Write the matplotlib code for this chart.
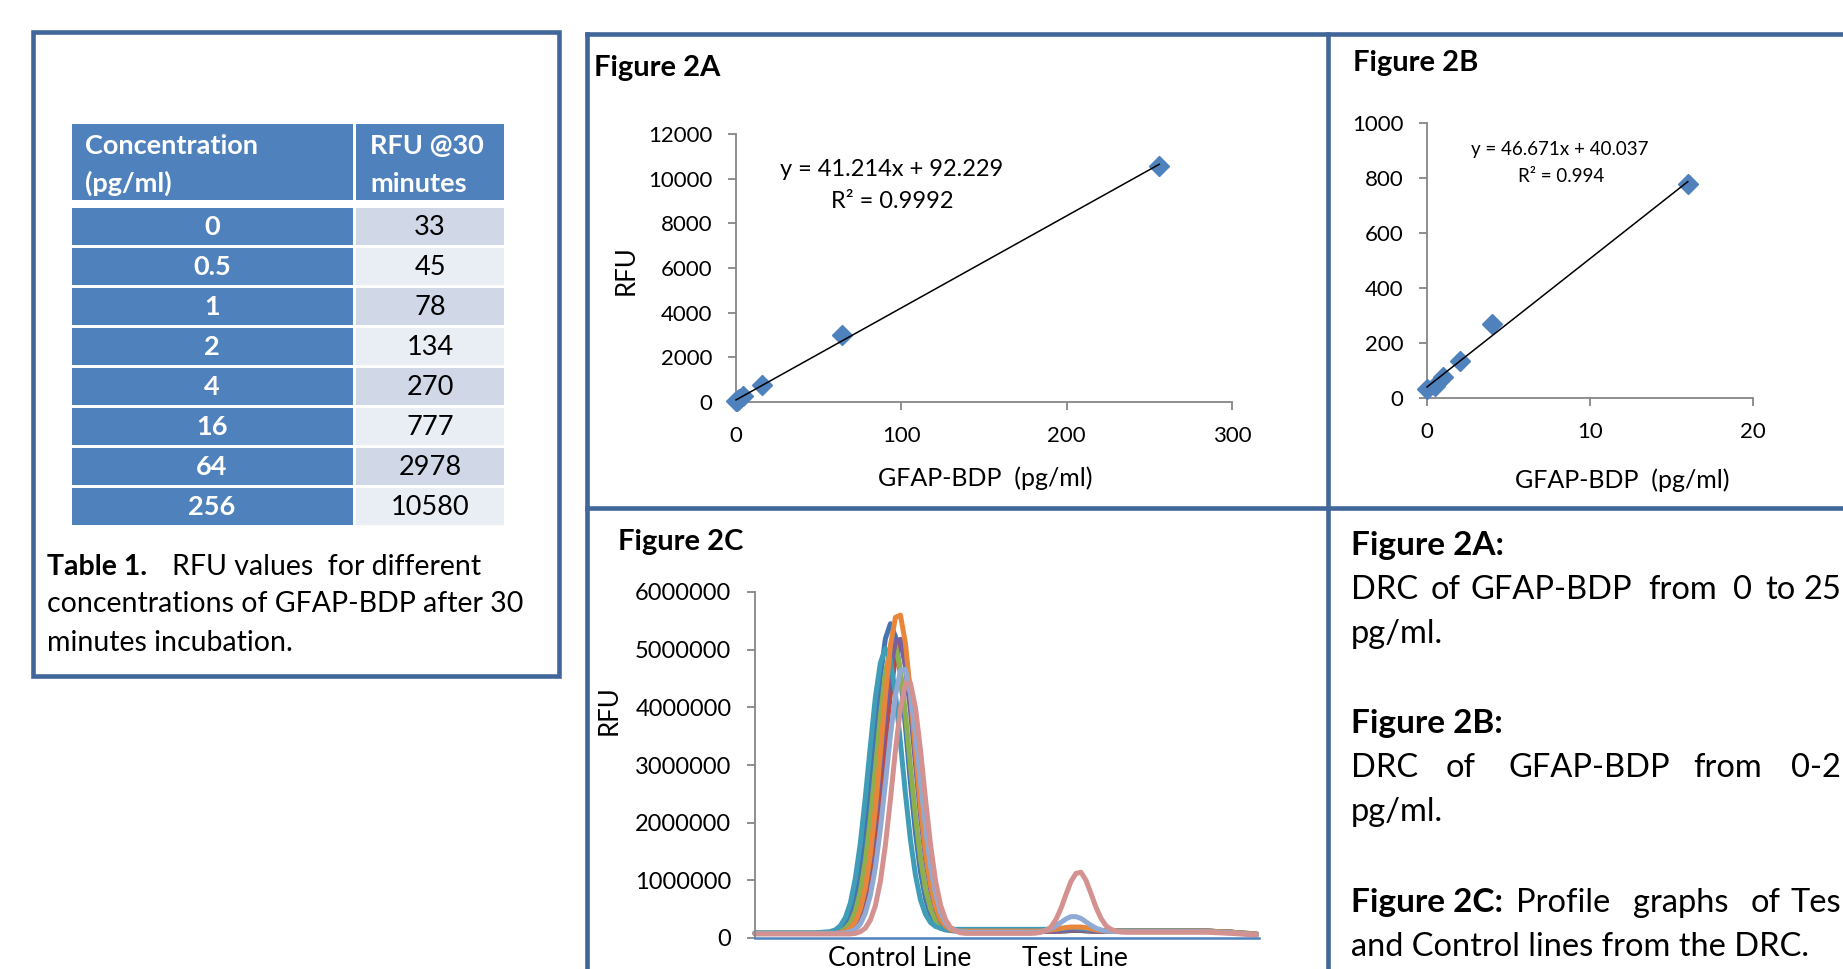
import numpy as np
import matplotlib
matplotlib.use('Agg')
import matplotlib.pyplot as plt
from matplotlib.patches import Rectangle
from matplotlib.lines import Line2D

plt.rcParams['font.family'] = ['Lato', 'DejaVu Sans']

W, H = 1843, 969
FRAME = '#41669A'
BLUE = '#4F81BD'
GREY = '#868686'

# Table 1 / Figure 2A / 2B data
conc_labels = ['0', '0.5', '1', '2', '4', '16', '64', '256']
rfu_labels = ['33', '45', '78', '134', '270', '777', '2978', '10580']
conc = [0, 0.5, 1, 2, 4, 16, 64, 256]
rfu = [33, 45, 78, 134, 270, 777, 2978, 10580]

# Figure 2C profiles, RFU in millions
profile_pos = [0, 6, 12] + list(range(15, 43)) + [46, 50] + list(range(54, 75)) + [78, 84, 90, 95, 100]

prof_0 = [0.08, 0.08, 0.08,
          0.09, 0.10, 0.13, 0.21, 0.36, 0.64, 1.10, 1.78, 2.65, 3.62, 4.53, 5.19, 5.45, 5.23,
          4.57, 3.66, 2.69, 1.82, 1.14, 0.68, 0.40, 0.25, 0.17, 0.14, 0.13, 0.12, 0.12, 0.12,
          0.12, 0.12,
          0.12, 0.12, 0.12, 0.12, 0.12, 0.12, 0.12, 0.12, 0.12, 0.13, 0.13, 0.13, 0.12, 0.12,
          0.12, 0.12, 0.12, 0.12, 0.12, 0.12, 0.12,
          0.12, 0.12, 0.12, 0.10, 0.06]
prof_05 = [0.08, 0.08, 0.08,
           0.08, 0.08, 0.09, 0.10, 0.13, 0.20, 0.35, 0.61, 1.04, 1.67, 2.48, 3.39, 4.24, 4.86,
           5.10, 4.90, 4.28, 3.43, 2.52, 1.71, 1.08, 0.65, 0.39, 0.24, 0.17, 0.14, 0.13, 0.12,
           0.12, 0.12,
           0.12, 0.12, 0.12, 0.12, 0.12, 0.12, 0.12, 0.12, 0.13, 0.14, 0.14, 0.14, 0.13, 0.12,
           0.12, 0.12, 0.12, 0.12, 0.12, 0.12, 0.12,
           0.12, 0.12, 0.12, 0.10, 0.06]
prof_1 = [0.08, 0.08, 0.08,
          0.08, 0.09, 0.11, 0.16, 0.26, 0.46, 0.80, 1.33, 2.06, 2.93, 3.84, 4.59, 5.03, 5.08,
          4.64, 3.89, 2.98, 2.11, 1.38, 0.85, 0.51, 0.31, 0.21, 0.16, 0.14, 0.13, 0.13, 0.13,
          0.13, 0.13,
          0.13, 0.13, 0.13, 0.13, 0.13, 0.13, 0.13, 0.13, 0.14, 0.15, 0.15, 0.15, 0.14, 0.13,
          0.13, 0.13, 0.13, 0.13, 0.13, 0.13, 0.13,
          0.13, 0.13, 0.12, 0.10, 0.07]
prof_2 = [0.08, 0.08, 0.08,
          0.08, 0.08, 0.09, 0.11, 0.16, 0.26, 0.47, 0.81, 1.34, 2.09, 2.98, 3.90, 4.66, 5.14,
          5.18, 4.70, 3.94, 3.02, 2.13, 1.38, 0.85, 0.51, 0.30, 0.20, 0.15, 0.13, 0.12, 0.12,
          0.12, 0.12,
          0.12, 0.12, 0.12, 0.12, 0.12, 0.12, 0.12, 0.13, 0.14, 0.15, 0.15, 0.15, 0.14, 0.13,
          0.12, 0.12, 0.12, 0.12, 0.12, 0.12, 0.12,
          0.12, 0.12, 0.12, 0.10, 0.06]
prof_4 = [0.09, 0.09, 0.09,
          0.11, 0.14, 0.21, 0.35, 0.60, 1.03, 1.64, 2.44, 3.33, 4.17, 4.77, 5.02, 4.83, 4.23,
          3.39, 2.50, 1.70, 1.09, 0.66, 0.41, 0.27, 0.20, 0.17, 0.15, 0.15, 0.15, 0.15, 0.15,
          0.15, 0.15,
          0.15, 0.15, 0.15, 0.15, 0.15, 0.15, 0.15, 0.16, 0.17, 0.18, 0.18, 0.17, 0.16, 0.15,
          0.14, 0.13, 0.13, 0.13, 0.13, 0.13, 0.13,
          0.13, 0.13, 0.12, 0.10, 0.07]
prof_16 = [0.08, 0.08, 0.08,
           0.08, 0.08, 0.09, 0.11, 0.17, 0.28, 0.50, 0.87, 1.44, 2.24, 3.20, 4.20, 5.07, 5.56,
           5.60, 5.11, 4.24, 3.24, 2.28, 1.48, 0.91, 0.54, 0.32, 0.21, 0.15, 0.13, 0.12, 0.12,
           0.12, 0.12,
           0.12, 0.12, 0.12, 0.12, 0.13, 0.14, 0.15, 0.17, 0.18, 0.19, 0.19, 0.19, 0.18, 0.16,
           0.14, 0.13, 0.12, 0.12, 0.12, 0.12, 0.12,
           0.12, 0.12, 0.12, 0.10, 0.07]
prof_64 = [0.08, 0.08, 0.08,
           0.08, 0.08, 0.08, 0.09, 0.11, 0.15, 0.24, 0.43, 0.74, 1.22, 1.89, 2.68, 3.51, 4.20,
           4.64, 4.66, 4.22, 3.53, 2.70, 1.91, 1.24, 0.76, 0.45, 0.26, 0.17, 0.13, 0.11, 0.10,
           0.10, 0.10,
           0.10, 0.10, 0.10, 0.11, 0.13, 0.16, 0.21, 0.27, 0.33, 0.37, 0.37, 0.34, 0.28, 0.22,
           0.17, 0.14, 0.12, 0.115, 0.11, 0.11, 0.11,
           0.11, 0.11, 0.11, 0.09, 0.06]
prof_256 = [0.07, 0.07, 0.07,
            0.07, 0.07, 0.07, 0.07, 0.07, 0.08, 0.11, 0.17, 0.31, 0.56, 0.98, 1.61, 2.40, 3.25,
            3.98, 4.41, 4.42, 3.99, 3.26, 2.41, 1.62, 0.99, 0.57, 0.32, 0.18, 0.12, 0.09, 0.08,
            0.08, 0.08,
            0.08, 0.08, 0.085, 0.10, 0.13, 0.19, 0.32, 0.51, 0.75, 0.98, 1.12, 1.14, 1.00, 0.77,
            0.53, 0.34, 0.21, 0.15, 0.12, 0.105, 0.10,
            0.10, 0.10, 0.10, 0.08, 0.05]
profile_labels = ['Control Line', 'Test Line']
profile_label_pos = [28.9, 63.7]
profile_yticks = [0, 1000000, 2000000, 3000000, 4000000, 5000000, 6000000]

profiles = [(prof_0, '#4575B0'), (prof_05, '#B94A47'), (prof_1, '#8DB04E'), (prof_2, '#7660A0'),
            (prof_4, '#3F9DB8'), (prof_16, '#E8873C'), (prof_64, '#91AAD3'), (prof_256, '#D39190')]

fig = plt.figure(figsize=(W / 100, H / 100), dpi=100)


def ptext(x, y, s, **kw):  # pixel coords, y from top
    return fig.text(x / W, 1 - y / H, s, **kw)


def prect(x0, y0, x1, y1, **kw):
    r = Rectangle((x0 / W, 1 - y1 / H), (x1 - x0) / W, (y1 - y0) / H, transform=fig.transFigure, **kw)
    fig.add_artist(r)


def pline(x0, y0, x1, y1):
    fig.add_artist(Line2D([x0 / W, x1 / W], [1 - y0 / H, 1 - y1 / H], color=FRAME, lw=3.3,
                          solid_capstyle='projecting', transform=fig.transFigure))


def pax(x0, x1, ytop, ybot):
    return fig.add_axes([x0 / W, 1 - ybot / H, (x1 - x0) / W, (ybot - ytop) / H])


def excel_style(ax, size=16):
    ax.set_facecolor('none')
    for s in ['top', 'right']:
        ax.spines[s].set_visible(False)
    for s in ['left', 'bottom']:
        ax.spines[s].set_color(GREY)
        ax.spines[s].set_linewidth(1.3)
    ax.tick_params(direction='out', length=6, width=1.3, color=GREY, labelsize=size, pad=11)


# ---- Table 1 ----
TS = 19.5
prect(33, 32, 559, 676, fill=False, ec=FRAME, lw=3.3)
prect(72, 124, 353, 200, color=BLUE, lw=0)
prect(356, 124, 504, 200, color=BLUE, lw=0)
ptext(85, 154, 'Concentration', color='white', weight='bold', fontsize=TS, va='baseline')
ptext(85, 192, '(pg/ml)', color='white', weight='bold', fontsize=TS, va='baseline')
ptext(370, 154, 'RFU @30', color='white', weight='bold', fontsize=TS, va='baseline')
ptext(370, 192, 'minutes', color='white', weight='bold', fontsize=TS, va='baseline')
for k, (c, r) in enumerate(zip(conc_labels, rfu_labels)):
    top = 208 + 40.05 * k
    prect(72, top, 353, top + 37, color=BLUE, lw=0)
    prect(356, top, 504, top + 37, color='#D0D8E8' if k % 2 == 0 else '#E9EDF4', lw=0)
    ptext(212, top + 27, c, color='white', weight='bold', fontsize=TS, ha='center', va='baseline')
    ptext(430, top + 27, r, color='black', fontsize=TS, ha='center', va='baseline')

CS = 20.5
ptext(47, 575, 'Table 1.', weight='bold', fontsize=CS, va='baseline')
ptext(172, 575, 'RFU values  for different', fontsize=CS, va='baseline')
ptext(47, 612.5, 'concentrations of GFAP-BDP after 30', fontsize=CS, va='baseline')
ptext(47, 651, 'minutes incubation.', fontsize=CS, va='baseline')

# ---- panel frames ----
pline(587, 34, 1850, 34)
pline(587, 34, 587, 980)
pline(1328, 34, 1328, 980)
pline(587, 508, 1850, 508)

# ---- Figure 2A ----
ax = pax(736, 1232, 134, 402)
excel_style(ax)
ax.plot(conc, rfu, 'D', ms=10, color=BLUE, mec=BLUE, clip_on=False, zorder=3)
m, b = np.polyfit(conc, rfu, 1)
xs = np.array([min(conc), max(conc)])
ax.plot(xs, m * xs + b, color='black', lw=1.1, zorder=4, clip_on=False)
ax.set_xlim(0, 300)
ax.set_ylim(0, 12000)
ax.set_xticks([0, 100, 200, 300])
ax.set_yticks([0, 2000, 4000, 6000, 8000, 10000, 12000])
ptext(594, 68, 'Figure 2A', weight='bold', fontsize=21, va='center')
ptext(892, 169, 'y = 41.214x + 92.229', fontsize=17, ha='center', va='center')
ptext(892, 202, 'R² = 0.9992', fontsize=17, ha='center', va='center')
ptext(626, 270, 'RFU', fontsize=18.5, rotation=90, ha='center', va='center')
ptext(985, 478, 'GFAP-BDP  (pg/ml)', fontsize=18, ha='center', va='center')

# ---- Figure 2B ----
low = [i for i, c in enumerate(conc) if c <= 16]
cx = [conc[i] for i in low]
cy = [rfu[i] for i in low]
ax = pax(1427, 1753, 123, 398)
excel_style(ax)
ax.plot(cx, cy, 'D', ms=10, color=BLUE, mec=BLUE, clip_on=False, zorder=3)
m, b = np.polyfit(cx, cy, 1)
xs = np.array([min(cx), max(cx)])
ax.plot(xs, m * xs + b, color='black', lw=1.1, zorder=4, clip_on=False)
ax.set_xlim(0, 20)
ax.set_ylim(0, 1000)
ax.set_xticks([0, 10, 20])
ax.set_yticks([0, 200, 400, 600, 800, 1000])
ptext(1353, 63, 'Figure 2B', weight='bold', fontsize=21, va='center')
ptext(1560, 149, 'y = 46.671x + 40.037', fontsize=13.5, ha='center', va='center')
ptext(1561, 176, 'R² = 0.994', fontsize=13.5, ha='center', va='center')
ptext(1622, 480, 'GFAP-BDP  (pg/ml)', fontsize=18, ha='center', va='center')

# ---- Figure 2C ----
ax = pax(755, 1259, 592, 938)
excel_style(ax, size=17)
for vals, col in profiles:
    ax.plot(profile_pos, np.array(vals) * 1e6, color=col, lw=3.6, solid_joinstyle='round',
            solid_capstyle='round', clip_on=False)
ax.spines['bottom'].set_color(BLUE)
ax.spines['bottom'].set_linewidth(1.8)
ax.set_xlim(0, 100.5)
ax.set_ylim(0, 6000000)
ax.set_yticks(profile_yticks)
ax.set_yticklabels([str(v) for v in profile_yticks])
ax.set_xticks(profile_label_pos)
ax.set_xticklabels(profile_labels, fontsize=19)
ax.tick_params(axis='x', length=0, pad=6)
ptext(618, 542, 'Figure 2C', weight='bold', fontsize=21, va='center')
ptext(609, 710, 'RFU', fontsize=18.5, rotation=90, ha='center', va='center')

# ---- legend text panel (justified lines, cut at the right edge like the scan) ----
FS = 23.5
FB = 24
ptext(1351, 555, 'Figure 2A:', weight='bold', fontsize=FB, va='baseline')
for x, w in zip([1351, 1431, 1471, 1648, 1733, 1765], ['DRC', 'of', 'GFAP-BDP', 'from', '0', 'to']):
    ptext(x, 599, w, fontsize=FS, va='baseline')
ptext(1841, 599, '25', fontsize=FS, va='baseline', ha='right')
ptext(1351, 643, 'pg/ml.', fontsize=FS, va='baseline')
ptext(1351, 733, 'Figure 2B:', weight='bold', fontsize=FB, va='baseline')
for x, w in zip([1351, 1446, 1508, 1693], ['DRC', 'of', 'GFAP-BDP', 'from']):
    ptext(x, 777, w, fontsize=FS, va='baseline')
ptext(1841, 777, '0-2', fontsize=FS, va='baseline', ha='right')
ptext(1351, 821, 'pg/ml.', fontsize=FS, va='baseline')
ptext(1351, 912, 'Figure 2C:', weight='bold', fontsize=FB, va='baseline')
for x, w in zip([1516, 1633, 1751], ['Profile', 'graphs', 'of']):
    ptext(x, 912, w, fontsize=FS, va='baseline')
ptext(1841, 912, 'Tes', fontsize=FS, va='baseline', ha='right')
ptext(1351, 956, 'and Control lines from the DRC.', fontsize=FS, va='baseline')

fig.savefig('out.png', dpi=100)
